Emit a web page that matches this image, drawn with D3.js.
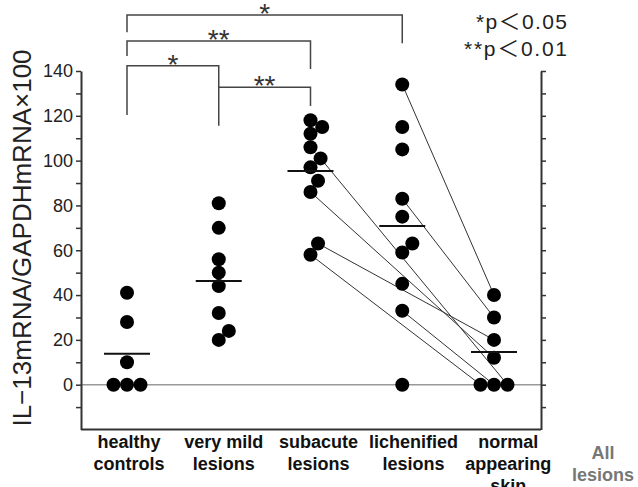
<!DOCTYPE html>
<html>
<head>
<meta charset="utf-8">
<script src="https://cdn.jsdelivr.net/npm/d3@7"></script>
<style>
  body { margin: 0; background: #fff; }
  svg { display: block; }
</style>
</head>
<body>
<script>
var width = 638, height = 487;

var groups = ["healthy controls", "very mild lesions", "subacute lesions", "lichenified lesions", "normal appearing skin"];
var xLabels = [["healthy", "controls"], ["very mild", "lesions"], ["subacute", "lesions"],
               ["lichenified", "lesions"], ["normal", "appearing", "skin"], ["All", "lesions"]];

// IL-13 mRNA / GAPDH mRNA x 100
var healthy     = [41, 28, 10, 0, 0, 0];
var veryMild    = [81, 70, 56, 50, 44, 32, 24, 20];
var subacute    = [118, 115, 112, 106, 101, 97, 91, 86, 63, 58];
var lichenified = [134, 115, 105, 83, 75, 63, 59, 45, 33, 0];
var normalSkin  = [40, 30, 20, 12, 0, 0, 0];
var means       = [13.8, 46.3, 95.4, 70.8, 14.6];

// paired samples: [lesion group, index in that group, index in normalSkin]
var pairs = [[3, 0, 0], [3, 3, 1], [2, 8, 2], [2, 7, 3], [2, 9, 6], [3, 8, 4], [2, 4, 5]];

var yTicks = d3.range(-10, 141, 10);

// significance brackets (levels in y units)
var brackets = [
  {a: 0, b: 3, text: "*",  top: 165,   endA: 157.3, endB: 152.4},
  {a: 0, b: 2, text: "**", top: 153.4, endA: 146.7, endB: 140.9},
  {a: 0, b: 1, text: "*",  top: 142.3, endA: 120.4, endB: 115.6},
  {a: 1, b: 2, text: "**", top: 132.8, endA: 132.8, endB: 124.4}
];
var legend = [["*p", "＜", "0.05"], ["**p", "＜", "0.01"]];

var series = [healthy, veryMild, subacute, lichenified, normalSkin];

var svg = d3.select("body").append("svg")
    .attr("width", width)
    .attr("height", height)
    .style("font-family", "'Liberation Sans', Arial, sans-serif");

var left = 81, right = 541;

var y = d3.scaleLinear().domain([-20, 140]).range([429.5, 71]);
var x = d3.scalePoint().domain(groups).range([127, 494]);
var xl = d3.scalePoint().domain(d3.range(xLabels.length)).range([129, 603]);

// zero line
svg.append("line")
    .attr("x1", left).attr("x2", right)
    .attr("y1", y(0)).attr("y2", y(0))
    .attr("stroke", "#999").attr("stroke-width", 1.5);

// bottom line
svg.append("line")
    .attr("x1", left).attr("x2", right)
    .attr("y1", y(-20)).attr("y2", y(-20))
    .attr("stroke", "#333").attr("stroke-width", 2);

var yAxis = svg.append("g")
    .attr("transform", "translate(" + left + ",0)")
    .call(d3.axisLeft(y).tickValues(yTicks).tickSize(5).tickSizeOuter(0).tickPadding(3)
      .tickFormat(function(d) { return d >= 0 && d % 20 === 0 ? d : ""; }));
yAxis.select(".domain").attr("stroke", "#333").attr("stroke-width", 2);
yAxis.selectAll(".tick line").attr("stroke", "#333").attr("stroke-width", 1.5);
yAxis.selectAll(".tick text").attr("font-size", 18).attr("fill", "#222")
    .attr("font-family", "'Liberation Sans', Arial, sans-serif");

var rAxis = svg.append("g")
    .attr("transform", "translate(" + right + ",0)")
    .call(d3.axisRight(y).tickValues(yTicks).tickSize(5).tickSizeOuter(0).tickFormat(""));
rAxis.select(".domain").attr("stroke", "#333").attr("stroke-width", 2);
rAxis.selectAll(".tick line").attr("stroke", "#333").attr("stroke-width", 1.5);

// y title
svg.append("text")
    .attr("transform", "translate(22," + 238 + ") rotate(-90)")
    .attr("text-anchor", "middle")
    .attr("dominant-baseline", "central")
    .attr("font-size", 26)
    .attr("fill", "#222")
    .text("IL−13mRNA/GAPDHmRNA×100");

// place dots, nudging sideways where they would overlap
function place(cx, cy, placed) {
  var clash = function(px) {
    return placed.filter(function(p) { return Math.hypot(p.x - px, p.y - cy) < 11.5; });
  };
  var c = clash(cx);
  if (!c.length) return cx;
  var dy = Math.abs(c[0].y - cy);
  var dx = Math.sqrt(Math.max(0, 13.5 * 13.5 - dy * dy));
  if (!clash(cx + dx).length) return cx + dx;
  return cx - dx;
}

var pos = series.map(function(vals, g) {
  var placed = [], out = new Array(vals.length);
  var order = d3.range(vals.length).sort(function(i, j) { return vals[i] - vals[j] || i - j; });
  order.forEach(function(i) {
    var cy = y(vals[i]);
    var cx = place(x(groups[g]), cy, placed);
    out[i] = {x: cx, y: cy, g: g};
    placed.push(out[i]);
  });
  return out;
});

// pairing lines
svg.append("g").selectAll("line")
  .data(pairs)
  .enter().append("line")
    .attr("x1", function(d) { return pos[d[0]][d[1]].x; })
    .attr("y1", function(d) { return pos[d[0]][d[1]].y; })
    .attr("x2", function(d) { return pos[4][d[2]].x; })
    .attr("y2", function(d) { return pos[4][d[2]].y; })
    .attr("stroke", "#333")
    .attr("stroke-width", 1);

// dots
svg.append("g").selectAll("circle")
  .data(d3.merge(pos))
  .enter().append("circle")
    .attr("cx", function(d) { return d.x; })
    .attr("cy", function(d) { return d.y; })
    .attr("r", 7)
    .attr("fill", "#000");

// mean bars
svg.append("g").selectAll("line")
  .data(means)
  .enter().append("line")
    .attr("x1", function(d, i) { return x(groups[i]) - 23; })
    .attr("x2", function(d, i) { return x(groups[i]) + 23; })
    .attr("y1", function(d) { return y(d); })
    .attr("y2", function(d) { return y(d); })
    .attr("stroke", "#111")
    .attr("stroke-width", 2);

// brackets
var br = svg.append("g").selectAll("g")
  .data(brackets)
  .enter().append("g");
br.append("path")
    .attr("d", function(d) {
      var xa = x(groups[d.a]), xb = x(groups[d.b]);
      return "M" + xa + "," + y(d.endA) + "V" + y(d.top) + "H" + xb + "V" + y(d.endB);
    })
    .attr("fill", "none")
    .attr("stroke", "#444")
    .attr("stroke-width", 1.5);
br.append("text")
    .attr("x", function(d) { return (x(groups[d.a]) + x(groups[d.b])) / 2; })
    .attr("y", function(d) { return y(d.top) + 8; })
    .attr("text-anchor", "middle")
    .attr("font-size", 28)
    .attr("fill", "#333")
    .text(function(d) { return d.text; });

// legend
var lg = svg.append("g").selectAll("text")
  .data(legend)
  .enter().append("text")
    .attr("x", 567)
    .attr("y", function(d, i) { return 29 + i * 27; })
    .attr("text-anchor", "end")
    .attr("font-size", 21)
    .attr("fill", "#222")
    .attr("textLength", function(d, i) { return i ? 103 : 91; })
    .attr("lengthAdjust", "spacing");
lg.selectAll("tspan")
  .data(function(d) { return d; })
  .enter().append("tspan")
    .attr("font-family", function(d, k) { return k === 1 ? "'Noto Sans CJK JP'" : null; })
    .attr("font-size", function(d, k) { return k === 1 ? 22 : null; })
    .text(function(d) { return d; });

// category labels
var lab = svg.append("g").selectAll("text")
  .data(xLabels)
  .enter().append("text")
    .attr("x", function(d, i) { return xl(i); })
    .attr("y", 448)
    .attr("text-anchor", "middle")
    .attr("font-size", 18)
    .attr("font-weight", "bold")
    .attr("fill", function(d, i) { return i === 5 ? "#777" : "#111"; });
lab.selectAll("tspan")
  .data(function(d, i) { return d.map(function(t) { return {t: t, i: i}; }); })
  .enter().append("tspan")
    .attr("x", function(d) { return xl(d.i); })
    .attr("dy", function(d, k) { return k === 0 ? (d.i === 5 ? 11 : 0) : 22; })
    .text(function(d) { return d.t; });
</script>
</body>
</html>
